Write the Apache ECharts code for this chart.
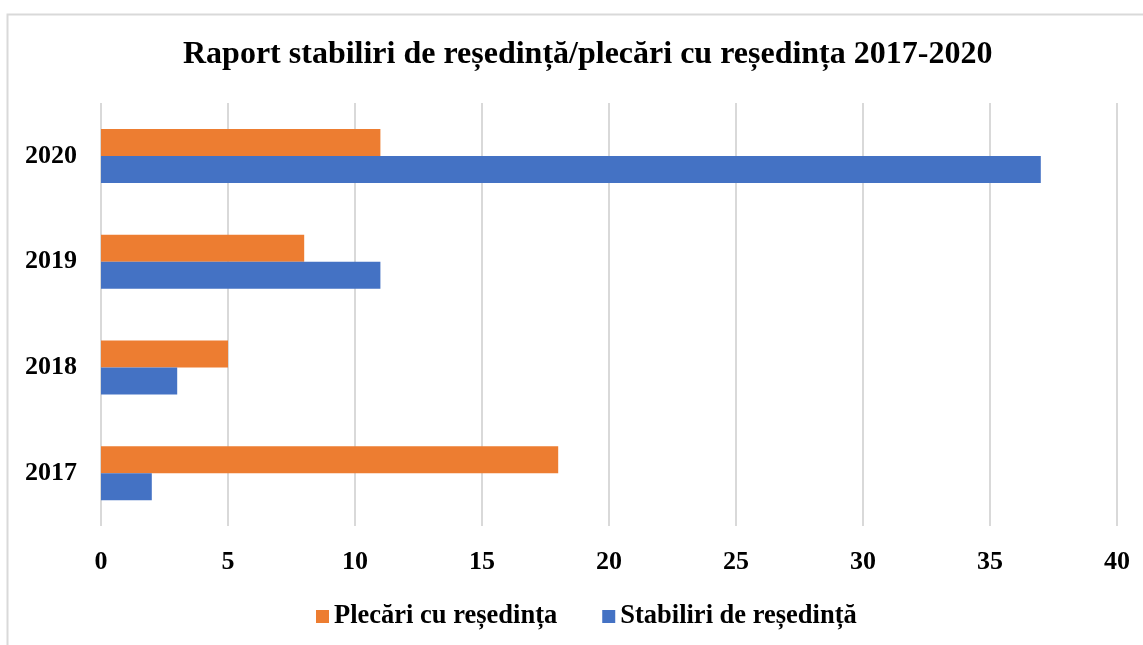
<!DOCTYPE html>
<html>
<head>
<meta charset="utf-8">
<script src="https://cdn.jsdelivr.net/npm/echarts@6/dist/echarts.min.js"></script>
<style>html,body{margin:0;padding:0;background:#fff}#c{width:1143px;height:645px}</style>
</head>
<body>
<div id="c"></div>
<script>
const categories = ['2017', '2018', '2019', '2020'];
const stabiliri = [2, 3, 11, 37];
const plecari = [18, 5, 8, 11];
const seriesNames = ['Plecări cu reședința', 'Stabiliri de reședință'];
const titleText = 'Raport stabiliri de reședință/plecări cu reședința 2017-2020';

const FONT = '"Liberation Serif", "Times New Roman", serif';
const chart = echarts.init(document.getElementById('c'));
chart.setOption({
  backgroundColor: '#fff',
  animation: false,
  graphic: [{
    type: 'rect',
    shape: { x: 7.5, y: 14.5, width: 1300, height: 800 },
    style: { fill: 'none', stroke: '#d9d9d9', lineWidth: 2 },
    silent: true
  }],
  title: {
    text: titleText,
    left: 178,
    top: 34,
    textStyle: { fontFamily: FONT, fontWeight: 'bold', fontSize: 32, color: '#000' }
  },
  legend: {
    data: seriesNames,
    top: 598,
    left: 311,
    itemWidth: 13,
    itemHeight: 13,
    itemGap: 45,
    icon: 'rect',
    textStyle: { fontFamily: FONT, fontWeight: 'bold', fontSize: 26.5, color: '#000' }
  },
  grid: { left: 101, right: 26, top: 103, bottom: 119, containLabel: false },
  xAxis: {
    type: 'value',
    min: 0, max: 40, interval: 5,
    axisLine: { show: false },
    axisTick: { show: false },
    splitLine: { lineStyle: { color: '#d9d9d9', width: 2 } },
    axisLabel: { fontFamily: FONT, fontWeight: 'bold', fontSize: 26, color: '#000', margin: 23 }
  },
  yAxis: {
    type: 'category',
    data: categories,
    axisLine: { show: false },
    axisTick: { show: false },
    axisLabel: { fontFamily: FONT, fontWeight: 'bold', fontSize: 26, color: '#000', margin: 24 }
  },
  series: [
    {
      name: seriesNames[0], type: 'bar', data: plecari,
      barWidth: 27, barGap: '0%',
      itemStyle: { color: '#ED7D31' }
    },
    {
      name: seriesNames[1], type: 'bar', data: stabiliri,
      barWidth: 27, barGap: '0%',
      itemStyle: { color: '#4472C4' }
    }
  ]
});
</script>
</body>
</html>
